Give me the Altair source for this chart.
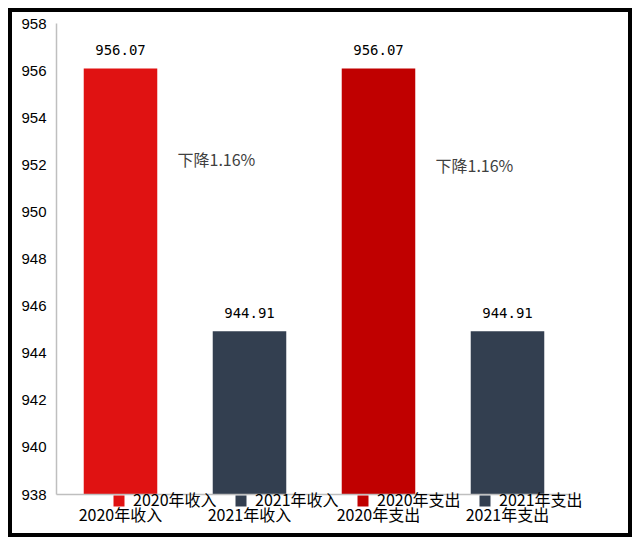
import altair as alt
import pandas as pd

categories = ["2020年收入", "2021年收入", "2020年支出", "2021年支出"]
values = [956.07, 944.91, 956.07, 944.91]
colors = ["#E01212", "#333F50", "#C00000", "#333F50"]
labels = ["956.07", "944.91", "956.07", "944.91"]
y_ticks = [938, 940, 942, 944, 946, 948, 950, 952, 954, 956, 958]

note_cats = ["2020年收入", "2020年支出"]
note_vals = [952.14, 951.89]
note_text = ["下降1.16%", "下降1.16%"]

df = pd.DataFrame({"cat": categories, "val": values, "label": labels})
notes = pd.DataFrame({"cat": note_cats, "val": note_vals, "text": note_text})

W, H = 516, 471

xscale = alt.Scale(domain=categories, paddingInner=0.43, paddingOuter=0.215)
yscale = alt.Scale(domain=[938, 958], nice=False, zero=False)

bg = alt.Chart(alt.Data(values=[{"a": 1}])).mark_rect(color="white").encode(
    x=alt.value(-44), x2=alt.value(572), y=alt.value(-11), y2=alt.value(510)
)

x_enc = alt.X(
    "cat:N",
    scale=xscale,
    sort=categories,
    axis=alt.Axis(
        title=None,
        labelAngle=0,
        ticks=False,
        labelPadding=13,
        labelFont="Noto Sans CJK SC",
        labelFontSize=16,
        labelColor="#000000",
        domainColor="#BFBFBF",
        domainWidth=1.5,
        zindex=1,
    ),
)

y_enc = alt.Y(
    "val:Q",
    scale=yscale,
    axis=alt.Axis(
        title=None,
        values=y_ticks,
        ticks=False,
        grid=False,
        labelPadding=10,
        labelFont="Liberation Sans",
        labelFontSize=15,
        labelColor="#000000",
        domainColor="#BFBFBF",
        domainWidth=1.5,
        zindex=1,
    ),
)

bars = alt.Chart(df).mark_bar(clip=True).encode(
    x=x_enc,
    y=y_enc,
    color=alt.Color(
        "cat:N",
        scale=alt.Scale(domain=categories, range=colors),
        legend=alt.Legend(
            title=None,
            orient="none",
            direction="horizontal",
            columns=4,
            legendX=55,
            legendY=470,
            symbolType="square",
            symbolSize=121,
            symbolStrokeWidth=0,
            labelFont="Noto Sans CJK SC",
            labelFontSize=16,
            labelColor="#000000",
            labelOffset=6,
            columnPadding=16,
            zindex=2,
        ),
    ),
)

bar_labels = alt.Chart(df).mark_text(
    baseline="alphabetic", dy=-13, font="DejaVu Sans Mono", fontSize=14, color="#000000"
).encode(
    x=alt.X("cat:N", scale=xscale, sort=categories),
    y=alt.Y("val:Q", scale=yscale),
    text="label:N",
)

note_layer = alt.Chart(notes).mark_text(
    align="left", baseline="middle", dx=57, font="Noto Sans CJK SC", fontSize=16, color="#404040"
).encode(
    x=alt.X("cat:N", scale=xscale, sort=categories),
    y=alt.Y("val:Q", scale=yscale),
    text="text:N",
)

chart = alt.layer(bg, bars, bar_labels, note_layer).properties(
    width=W,
    height=H,
    background="black",
    padding={"left": 4, "top": 4, "right": 4, "bottom": 4},
).configure_view(strokeWidth=0)

chart.save("out.html", embed_options={"renderer": "svg", "actions": False})
